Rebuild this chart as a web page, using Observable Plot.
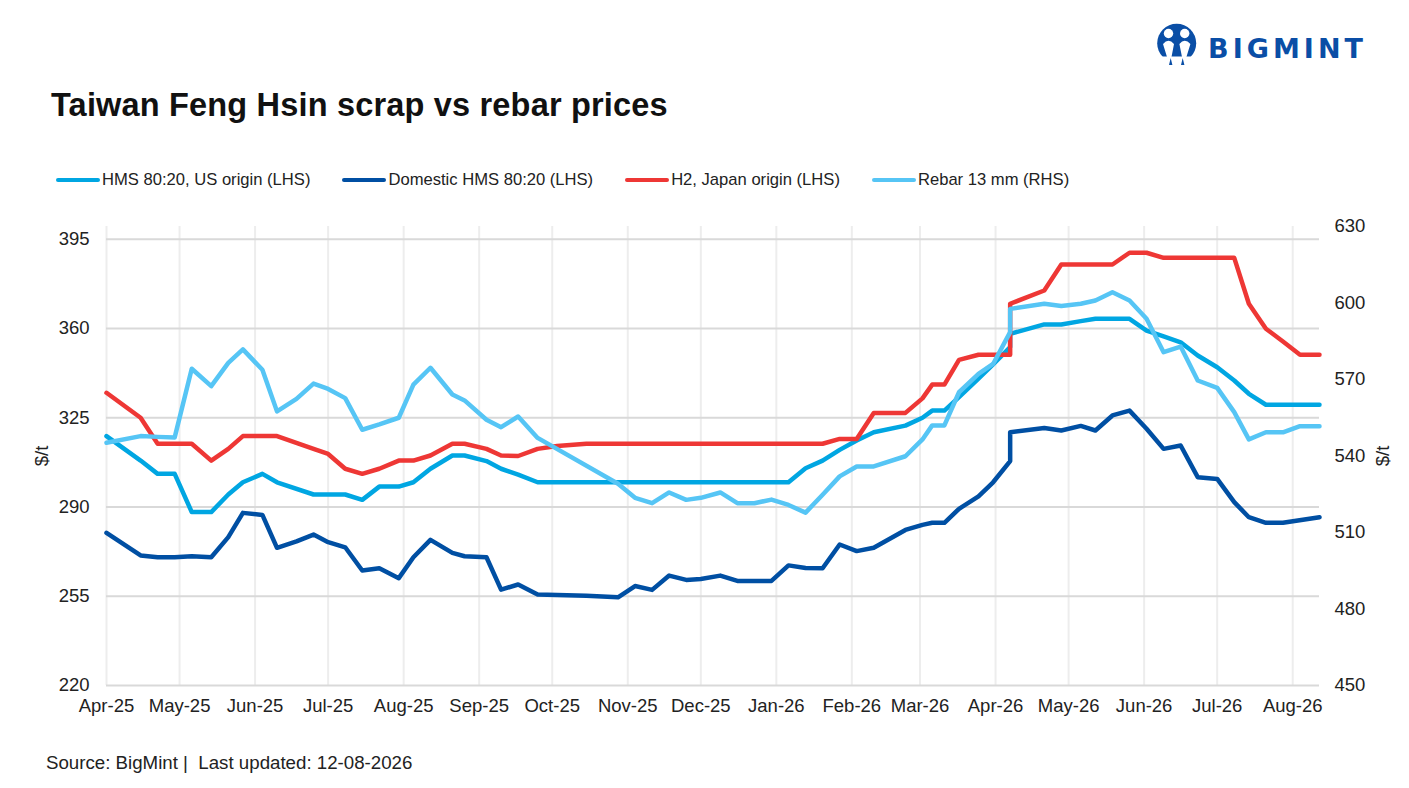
<!DOCTYPE html>
<html>
<head>
<meta charset="utf-8">
<script src="https://cdn.jsdelivr.net/npm/d3@7"></script>
<script src="https://cdn.jsdelivr.net/npm/@observablehq/plot@0.6"></script>
<style>
html,body{margin:0;padding:0;background:#fff;font-family:"Liberation Sans",Arial,sans-serif;color:#1a1a1a;}
#page{position:relative;width:1409px;height:788px;overflow:hidden;}
#head{position:relative;height:200px;}
#title{position:absolute;left:51px;top:86px;font-size:32.5px;letter-spacing:.18px;font-weight:700;line-height:38px;color:#111;white-space:nowrap;}
#legend{position:absolute;left:56px;top:170px;display:flex;gap:32px;font-size:16.6px;line-height:20px;white-space:nowrap;color:#222;}
#legend .it{display:flex;align-items:center;gap:2px;}
#legend .sw{display:inline-block;width:44px;height:4.5px;border-radius:3px;}
#logo{position:absolute;left:1155px;top:20px;}
#source{position:absolute;left:46px;top:752px;font-size:18.7px;line-height:22px;color:#222;white-space:pre;}
svg.plot{position:absolute;left:0;top:200px;}
</style>
</head>
<body>
<div id="page">
  <div id="head">
    <svg id="logo" width="215" height="50" viewBox="0 0 215 50">
      <circle cx="21.7" cy="23.3" r="19.5" fill="#0a4ea6"/>
      <rect x="0" y="36.5" width="44" height="13" fill="#fff"/>
      <circle cx="13.5" cy="13.5" r="4.7" fill="#fff"/>
      <circle cx="29.7" cy="13.5" r="4.7" fill="#fff"/>
      <path d="M8 24 Q13.5 17.5 19 24 L16.5 37 L12 37 Z M24.4 24 Q29.7 17.5 35.4 24 L31.4 37 L27 37 Z" fill="#fff"/>
      <path d="M15.7 38 l-1.7 7 h3.4 Z M27.7 38 l-1.7 7 h3.4 Z" fill="#0a4ea6"/>
      <text x="53" y="38" font-family="DejaVu Sans" font-weight="700" font-size="27" textLength="155" lengthAdjust="spacing" fill="#0a4ea6">BIGMINT</text>
    </svg>
    <div id="title">Taiwan Feng Hsin scrap vs rebar prices</div>
    <div id="legend"></div>
  </div>
  <div id="chart"></div>
  <div id="source">Source: BigMint |  Last updated: 12-08-2026</div>
</div>
<script>
const dates = [
"2025-04-01","2025-04-15","2025-04-22","2025-04-29","2025-05-06","2025-05-14","2025-05-21","2025-05-27","2025-06-04","2025-06-10",
"2025-06-18","2025-06-25","2025-07-01","2025-07-08","2025-07-15","2025-07-22","2025-07-30","2025-08-05","2025-08-12","2025-08-21",
"2025-08-26","2025-09-04","2025-09-10","2025-09-17","2025-09-25","2025-10-03","2025-10-15","2025-10-28","2025-11-04","2025-11-11",
"2025-11-18","2025-11-25","2025-12-01","2025-12-09","2025-12-16","2025-12-23","2025-12-30","2026-01-06","2026-01-13","2026-01-20",
"2026-01-27","2026-02-03","2026-02-10","2026-02-23","2026-03-02","2026-03-06","2026-03-11","2026-03-17","2026-03-25","2026-03-31",
"2026-04-07","2026-04-07","2026-04-21","2026-04-28","2026-05-06","2026-05-12","2026-05-19","2026-05-26","2026-06-02","2026-06-09",
"2026-06-16","2026-06-23","2026-07-01","2026-07-08","2026-07-14","2026-07-21","2026-07-28","2026-08-04","2026-08-12"];

const hmsUS = [
317.8,308.2,303,303,288,288,294.9,299.7,303,299.7,
null,294.9,294.9,294.9,292.8,298,298,299.7,305,310.2,
310.2,308,305,302.7,299.7,299.7,299.7,299.7,299.7,299.7,
299.7,299.7,299.7,299.7,299.7,299.7,299.7,299.7,305.2,308.2,
312.4,316.1,319.3,321.9,325,327.8,327.8,333.1,340.3,345.9,
352.7,357.9,361.6,361.6,362.9,363.8,363.8,363.8,359.2,356.9,
354.6,349.4,344.8,339.6,334.4,330.1,330.1,330.1,330.1];

const domestic = [
279.9,271,270.3,270.3,270.7,270.3,278.2,287.7,286.9,274,
276.5,279.2,276.2,274.2,265.1,266,262.1,270.3,277.1,272,
270.7,270.3,257.6,259.6,255.7,null,255.2,254.6,259,257.5,
263.1,261.4,261.8,263.1,261,261,261,267.1,266.1,266,
275.3,272.7,274,281,283,283.8,283.8,289.3,294.2,299.7,
308,319.3,321,320,321.8,320,325.9,327.8,320.7,312.8,
314.1,301.7,301,291.9,286,283.8,283.8,null,286];

const h2Japan = [
334.8,325,314.8,314.8,314.8,308.2,312.8,317.8,317.8,317.8,
null,312.8,310.8,305,303,305,308.2,308.2,310.2,314.8,
314.8,312.8,310.2,310,312.8,313.9,314.8,314.8,314.8,314.8,
314.8,314.8,314.8,314.8,314.8,314.8,314.8,314.8,314.8,314.8,
316.7,316.7,326.9,326.9,332.6,338,338,347.7,349.7,349.7,
349.7,369.7,374.9,385.1,385.1,385.1,385.1,389.7,389.7,387.7,
387.7,387.7,387.7,387.7,369.7,359.9,354.9,349.7,349.7];

const rebar = [
545.2,547.8,547.5,547.3,574.2,567.4,576.5,581.8,573.8,557.5,
562.4,568.4,566.3,562.7,550.3,552.4,555,568,574.6,564.1,
561.8,554.2,551.3,555.5,547.1,null,null,529.1,523.6,521.5,
525.7,522.8,523.6,525.7,521.5,521.5,522.9,520.8,517.8,524.8,
532,535.9,535.9,539.9,546.5,552,552,565,572.2,576.1,
588.6,597.7,599.7,598.8,599.7,601,604.2,601,593.8,580.7,
582.9,569.6,566.7,557.2,546.5,549.3,549.3,551.7,551.7];

const seriesNames = ["HMS 80:20, US origin (LHS)","Domestic HMS 80:20 (LHS)","H2, Japan origin (LHS)","Rebar 13 mm (RHS)"];
const seriesColors = ["#00a6e2","#004fa3","#ee3735","#56c5f5"];
const monthTicks = ["2025-04-01","2025-05-01","2025-06-01","2025-07-01","2025-08-01","2025-09-01","2025-10-01","2025-11-01","2025-12-01","2026-01-01","2026-02-01","2026-03-01","2026-04-01","2026-05-01","2026-06-01","2026-07-01","2026-08-01"].map(d=>new Date(d));
const leftTicks = [220,255,290,325,360,395];
const rightTicks = [450,480,510,540,570,600,630];
const rhsOffset = 230; // the RHS axis 450–630 runs parallel to the LHS axis 220–400

const rows = (vals, shift=0) => dates.map((d,i)=>({date:new Date(d), v:vals[i]===null?null:vals[i]-shift})).filter(r=>r.v!==null);

const lineOpts = c => ({x:"date", y:"v", stroke:c, strokeWidth:4.5, strokeLinejoin:"round", strokeLinecap:"round"});

const fmtMonth = d3.utcFormat("%b-%y");
const plot = Plot.plot({
  width:1409, height:520,
  marginLeft:106, marginRight:90, marginTop:26, marginBottom:35,
  style:{fontFamily:"Liberation Sans, Arial, sans-serif", color:"#222", overflow:"visible"},
  x:{type:"utc", domain:[new Date("2025-04-01"), new Date("2026-08-12")]},
  y:{domain:[220,400]},
  marks:[
    Plot.ruleX(monthTicks,{stroke:"#ededed",strokeWidth:2}),
    Plot.ruleY(leftTicks,{stroke:"#d9d9d9",strokeWidth:2}),
    Plot.axisX({ticks:monthTicks,tickSize:0,tickPadding:13,tickFormat:fmtMonth,fontSize:18.5,label:null}),
    Plot.axisY({anchor:"left",ticks:leftTicks,tickSize:0,tickPadding:17,fontSize:18.5,label:"$/t",labelAnchor:"center",labelArrow:"none",labelOffset:72}),
    Plot.axisY({anchor:"right",ticks:rightTicks.map(v=>v-rhsOffset),tickFormat:v=>v+rhsOffset,tickSize:0,tickPadding:15,fontSize:18.5,label:"$/t",labelAnchor:"center",labelArrow:"none",labelOffset:69}),
    Plot.line(rows(hmsUS),lineOpts(seriesColors[0])),
    Plot.line(rows(domestic),lineOpts(seriesColors[1])),
    Plot.line(rows(h2Japan),lineOpts(seriesColors[2])),
    Plot.line(rows(rebar,rhsOffset),lineOpts(seriesColors[3]))
  ]
});
document.getElementById("chart").appendChild(plot);

const lg = document.getElementById("legend");
seriesNames.forEach((n,i)=>{
  const it=document.createElement("span");it.className="it";
  const sw=document.createElement("span");sw.className="sw";sw.style.background=seriesColors[i];
  const t=document.createElement("span");t.textContent=n;
  it.append(sw,t);lg.append(it);
});
</script>
</body>
</html>
